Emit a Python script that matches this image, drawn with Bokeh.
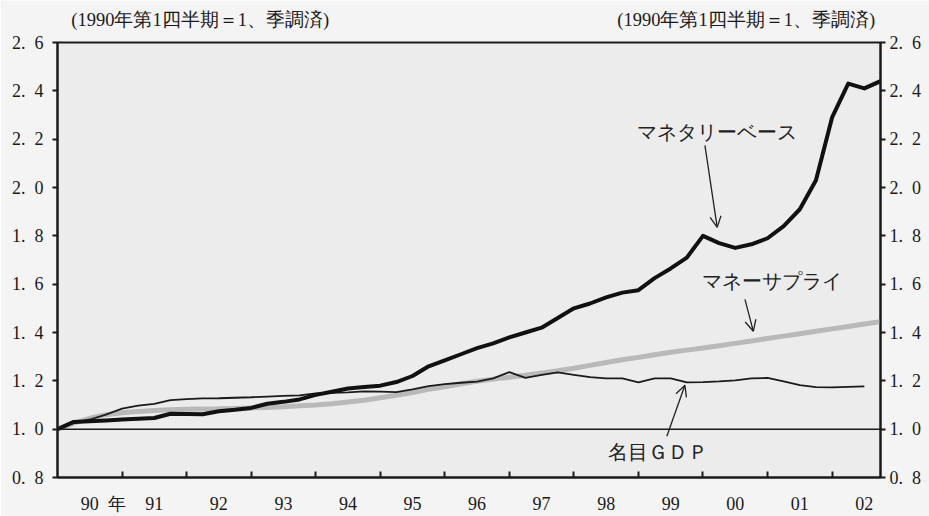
from bokeh.plotting import figure
from bokeh.models import (LinearAxis, FixedTicker, CustomJSTickFormatter, Range1d,
                          Span, Label, Arrow, OpenHead)
from bokeh.embed import file_html
from bokeh.resources import INLINE

# ---------------- data (1990Q1 = 1, seasonally adjusted) ----------------
quarters = [f"{y}Q{q}" for y in range(1990, 2003) for q in range(1, 5)]

monetary_base = [1.000, 1.030, 1.033, 1.036, 1.040, 1.043, 1.046, 1.064,
                 1.063, 1.062, 1.074, 1.080, 1.088, 1.105, 1.113, 1.123,
                 1.142, 1.155, 1.168, 1.174, 1.180, 1.195, 1.220, 1.260,
                 1.285, 1.310, 1.335, 1.355, 1.380, 1.400, 1.420, 1.460,
                 1.500, 1.520, 1.545, 1.565, 1.575, 1.625, 1.665, 1.710,
                 1.800, 1.770, 1.750, 1.765, 1.790, 1.840, 1.910, 2.030,
                 2.290, 2.430, 2.410, 2.440]

money_supply = [1.000, 1.025, 1.045, 1.060, 1.068, 1.073, 1.077, 1.080,
                1.082, 1.083, 1.084, 1.086, 1.088, 1.090, 1.093, 1.097,
                1.100, 1.105, 1.112, 1.120, 1.130, 1.140, 1.152, 1.165,
                1.175, 1.188, 1.198, 1.207, 1.215, 1.223, 1.232, 1.242,
                1.252, 1.264, 1.276, 1.287, 1.297, 1.308, 1.318, 1.327,
                1.336, 1.345, 1.355, 1.365, 1.375, 1.385, 1.395, 1.405,
                1.415, 1.425, 1.435, 1.445]

nominal_gdp = [1.000, 1.025, 1.040, 1.060, 1.085, 1.097, 1.105, 1.120,
               1.124, 1.127, 1.128, 1.130, 1.132, 1.135, 1.138, 1.140,
               1.148, 1.150, 1.152, 1.156, 1.155, 1.153, 1.165, 1.178,
               1.186, 1.192, 1.197, 1.210, 1.236, 1.212, 1.225, 1.235,
               1.225, 1.215, 1.210, 1.210, 1.194, 1.210, 1.210, 1.194,
               1.195, 1.198, 1.202, 1.210, 1.212, 1.198, 1.182, 1.174,
               1.173, 1.175, 1.177]

y_ticks = [0.8, 1.0, 1.2, 1.4, 1.6, 1.8, 2.0, 2.2, 2.4, 2.6]
year_label_pos = [1990.5 + k for k in range(13)]
year_bounds = [1991 + k for k in range(12)]
year_char_pos = 1990.92          # where the 年 sits on the time axis
unit_caption_pos = [1992.21, 2000.67]

unit_text = "(1990年第1四半期＝1、季調済)"
name_mb = "マネタリーベース"
name_ms = "マネーサプライ"
name_gdp = "名目ＧＤＰ"
year_char = "年"

# -----------------------------------------------------------------------
def to_t(s):
    return int(s[:4]) + (int(s[-1]) - 1) / 4.0

t_all = [to_t(s) for s in quarters]

SERIF = "Liberation Serif"
INK = "#1a1a1a"

p = figure(width=929, height=516, output_backend="svg", toolbar_location=None,
           x_range=Range1d(1990.0, 2002.75), y_range=Range1d(0.8, 2.6),
           min_border_left=57, min_border_right=49, min_border_top=42,
           min_border_bottom=38, x_axis_location=None, y_axis_location=None)
p.background_fill_color = "#ececec"
p.border_fill_color = "#f4f4f4"
p.outline_line_color = INK
p.outline_line_width = 2
p.xgrid.visible = False
p.ygrid.visible = False

yfmt = CustomJSTickFormatter(code="return tick.toFixed(1).replace('.', '.\u2002');")

def style_y(ax):
    ax.ticker = FixedTicker(ticks=y_ticks)
    ax.formatter = yfmt
    ax.axis_line_color = INK
    ax.axis_line_width = 2
    ax.major_tick_line_color = INK
    ax.major_tick_line_width = 2
    ax.major_tick_out = 5
    ax.major_tick_in = 0
    ax.minor_tick_line_color = None
    ax.major_label_text_font = SERIF
    ax.major_label_text_font_size = "18px"
    ax.major_label_text_color = INK

yl = LinearAxis()
style_y(yl)
yl.major_label_standoff = 9
p.add_layout(yl, "left")

yr = LinearAxis()
style_y(yr)
yr.major_label_standoff = 4
p.add_layout(yr, "right")

# bottom: year labels at mid-year, short inward ticks at year boundaries
xb = LinearAxis()
xb.ticker = FixedTicker(ticks=year_label_pos + [year_char_pos], minor_ticks=year_bounds)
xb.formatter = CustomJSTickFormatter(
    args=dict(yc=year_char),
    code="""
    if (Math.abs(tick - Math.floor(tick) - 0.5) > 0.01) { return yc; }
    const y = Math.floor(tick) % 100;
    return (y < 10 ? '0' : '') + y;""")
xb.axis_line_color = INK
xb.axis_line_width = 2
xb.major_tick_line_color = None
xb.major_tick_in = 0
xb.major_tick_out = 0
xb.minor_tick_line_color = INK
xb.minor_tick_line_width = 2
xb.minor_tick_in = 6
xb.minor_tick_out = 0
xb.major_label_standoff = 16
xb.major_label_text_font = SERIF
xb.major_label_text_font_size = "18px"
xb.major_label_text_color = INK
p.add_layout(xb, "below")

# top: unit captions as labels of an otherwise invisible axis
xt = LinearAxis()
xt.ticker = FixedTicker(ticks=unit_caption_pos)
xt.formatter = CustomJSTickFormatter(args=dict(s=unit_text), code="return s;")
xt.axis_line_color = None
xt.major_tick_line_color = None
xt.minor_tick_line_color = None
xt.major_tick_in = 0
xt.major_tick_out = 0
xt.major_label_standoff = 13
xt.major_label_text_font = SERIF
xt.major_label_text_font_size = "18.5px"
xt.major_label_text_color = INK
p.add_layout(xt, "above")

# base line at 1.0
p.add_layout(Span(location=1.0, dimension="width", line_color=INK, line_width=1.5))

# series
p.line(t_all, money_supply, line_color="#b9b9b9", line_width=5)
p.line(t_all[:len(nominal_gdp)], nominal_gdp, line_color=INK, line_width=1.8)
p.line(t_all, monetary_base, line_color="#111111", line_width=4, line_join="round")

# series annotations
def note(x, y, txt):
    p.add_layout(Label(x=x, y=y, text=txt, text_font=SERIF, text_font_size="20px",
                       text_color="#222222", text_align="center",
                       text_baseline="middle"))

def arrow(x0, y0, x1, y1):
    p.add_layout(Arrow(x_start=x0, y_start=y0, x_end=x1, y_end=y1,
                       line_color="#222222", line_width=1.3,
                       end=OpenHead(size=11, line_color="#222222", line_width=1.3)))

note(2000.22, 2.231, name_mb)
arrow(2000.03, 2.174, 2000.22, 1.835)
note(2001.07, 1.612, name_ms)
arrow(2000.65, 1.537, 2000.78, 1.405)
note(1999.30, 0.905, name_gdp)
arrow(1999.44, 0.971, 1999.72, 1.182)

open("out.html", "w").write(file_html(p, INLINE))
